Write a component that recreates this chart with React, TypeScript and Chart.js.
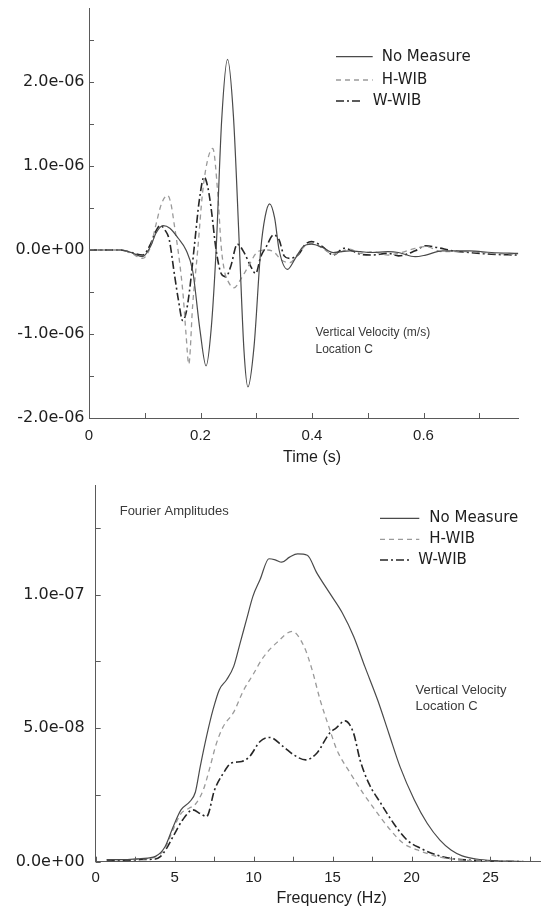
import React, { useEffect, useRef } from 'react';
import { Chart, registerables } from 'chart.js';

Chart.register(...registerables);

// ---------- shared ----------
const seriesNames = ['No Measure', 'H-WIB', 'W-WIB'];

// ---------- top chart: vertical velocity (m/s) vs time (s) ----------
const VEL_UNIT = 1e-6;
const timeNoMeasure = [0, 0.057, 0.076, 0.096, 0.111, 0.12, 0.133, 0.145, 0.16, 0.174, 0.186, 0.199, 0.21, 0.219, 0.228, 0.238, 0.2485, 0.259, 0.27, 0.278, 0.285, 0.296, 0.308, 0.316, 0.324, 0.333, 0.341, 0.356, 0.37, 0.384, 0.399, 0.419, 0.438, 0.468, 0.487, 0.507, 0.536, 0.555, 0.585, 0.604, 0.634, 0.683, 0.722, 0.77];
const velNoMeasure = [0, 0, -0.03, -0.08, 0.05, 0.2, 0.29, 0.26, 0.14, 0.0, -0.25, -0.95, -1.38, -0.95, 0.0, 1.55, 2.27, 1.6, 0.0, -1.2, -1.63, -1.15, 0.0, 0.4, 0.55, 0.38, 0.0, -0.23, -0.1, 0.04, 0.07, 0.03, -0.03, -0.01, -0.02, -0.03, -0.02, -0.03, -0.08, -0.06, -0.01, -0.01, -0.03, -0.04];
const timeHWIB = [0, 0.057, 0.076, 0.096, 0.111, 0.12, 0.13, 0.141, 0.147, 0.153, 0.162, 0.169, 0.174, 0.179, 0.186, 0.195, 0.2035, 0.212, 0.222, 0.231, 0.237, 0.243, 0.25, 0.26, 0.272, 0.287, 0.301, 0.316, 0.331, 0.345, 0.36, 0.375, 0.389, 0.399, 0.419, 0.438, 0.468, 0.487, 0.507, 0.536, 0.555, 0.585, 0.604, 0.634, 0.683, 0.722, 0.77];
const velHWIB = [0, 0, -0.04, -0.1, 0.05, 0.3, 0.55, 0.65, 0.55, 0.3, -0.12, -0.55, -1.0, -1.36, -0.65, 0.0, 0.67, 1.05, 1.21, 0.67, 0.05, -0.25, -0.38, -0.45, -0.35, -0.18, -0.03, 0.0, -0.02, -0.12, -0.15, -0.05, 0.06, 0.08, 0.02, -0.05, 0.01, -0.04, -0.02, -0.06, -0.04, 0.02, 0.04, -0.02, -0.02, -0.04, -0.05];
const timeWWIB = [0, 0.057, 0.076, 0.096, 0.111, 0.118, 0.128, 0.136, 0.144, 0.153, 0.1605, 0.168, 0.174, 0.18, 0.189, 0.198, 0.2065, 0.213, 0.219, 0.228, 0.237, 0.2455, 0.254, 0.266, 0.279, 0.2905, 0.299, 0.308, 0.318, 0.331, 0.341, 0.35, 0.36, 0.3775, 0.387, 0.399, 0.419, 0.438, 0.458, 0.487, 0.507, 0.536, 0.555, 0.585, 0.604, 0.624, 0.653, 0.683, 0.722, 0.77];
const velWWIB = [0, 0, -0.03, -0.06, 0.08, 0.2, 0.29, 0.24, 0.12, -0.28, -0.6, -0.84, -0.75, -0.5, 0.05, 0.6, 0.87, 0.75, 0.5, 0.0, -0.28, -0.32, -0.2, 0.07, -0.04, -0.2, -0.28, -0.08, 0.04, 0.18, 0.12, -0.07, -0.1, -0.04, 0.06, 0.1, 0.04, -0.06, 0.02, -0.05, -0.06, -0.04, -0.07, -0.01, 0.05, 0.03, -0.01, -0.03, -0.05, -0.06];

const timeTicks = [0, 0.1, 0.2, 0.3, 0.4, 0.5, 0.6, 0.7];
const timeTickLabels = ['0', '', '0.2', '', '0.4', '', '0.6', ''];
const velTicks = [-2, -1.5, -1, -0.5, 0, 0.5, 1, 1.5, 2, 2.5];
const velTickLabels = ['-2.0e-06', '', '-1.0e-06', '', '0.0e+00', '', '1.0e-06', '', '2.0e-06', ''];

// ---------- bottom chart: Fourier amplitudes vs frequency (Hz) ----------
const AMP_UNIT = 1e-8;
const freqNoMeasure = [0.7, 1.86, 2.87, 3.78, 4.39, 4.9, 5.4, 5.96, 6.31, 6.62, 7.02, 7.43, 7.83, 8.29, 8.74, 9.15, 9.55, 9.96, 10.41, 10.97, 11.37, 11.78, 12.28, 12.79, 13.4, 14.0, 14.81, 15.62, 16.33, 17.04, 17.85, 18.56, 19.27, 20.18, 20.99, 21.8, 22.5, 23.21, 24.12, 25.14, 26.15, 27.16];
const ampNoMeasure = [0.08, 0.08, 0.12, 0.2, 0.56, 1.3, 1.94, 2.25, 2.6, 3.56, 4.69, 5.69, 6.44, 6.81, 7.31, 8.19, 9.06, 9.94, 10.56, 11.34, 11.3, 11.21, 11.4, 11.52, 11.47, 10.81, 10.06, 9.31, 8.44, 7.31, 6.06, 4.81, 3.56, 2.31, 1.44, 0.81, 0.44, 0.22, 0.1, 0.04, 0.02, 0.0];
const freqHWIB = [0.7, 1.86, 2.87, 3.78, 4.39, 4.9, 5.4, 5.91, 6.31, 6.82, 7.22, 7.63, 8.08, 8.74, 9.35, 9.96, 10.61, 11.47, 12.44, 13.19, 13.7, 14.21, 14.76, 15.27, 16.13, 16.94, 17.85, 18.66, 19.47, 20.38, 21.59, 22.61, 23.62, 24.63, 26.15, 27.16];
const ampHWIB = [0.08, 0.08, 0.1, 0.18, 0.5, 1.2, 1.8, 2.0, 2.15, 2.7, 3.5, 4.4, 5.06, 5.6, 6.4, 7.0, 7.65, 8.2, 8.62, 8.06, 7.19, 6.06, 5.06, 4.19, 3.31, 2.56, 1.81, 1.19, 0.69, 0.44, 0.2, 0.1, 0.05, 0.02, 0.0, 0.0];
const freqWWIB = [0.7, 1.86, 2.87, 3.78, 4.09, 4.49, 4.9, 5.5, 6.16, 6.62, 7.02, 7.53, 8.08, 8.59, 9.25, 9.75, 10.41, 11.02, 11.88, 12.54, 13.3, 14.0, 14.81, 15.22, 15.78, 16.33, 16.74, 17.29, 18.05, 18.86, 19.72, 20.58, 21.59, 22.51, 23.62, 24.63, 25.64, 27.16];
const ampWWIB = [0.05, 0.05, 0.08, 0.1, 0.19, 0.5, 0.94, 1.56, 1.94, 1.8, 1.69, 2.69, 3.31, 3.69, 3.75, 3.94, 4.5, 4.65, 4.31, 4.0, 3.81, 4.06, 4.81, 5.0, 5.27, 4.81, 3.81, 2.94, 2.19, 1.44, 0.81, 0.5, 0.25, 0.12, 0.06, 0.03, 0.01, 0.0];

const freqTicks = [0, 2.5, 5, 7.5, 10, 12.5, 15, 17.5, 20, 22.5, 25, 27.5];
const freqTickLabels = ['0', '', '5', '', '10', '', '15', '', '20', '', '25', ''];
const ampTicks = [0, 2.5, 5, 7.5, 10, 12.5];
const ampTickLabels = ['0.0e+00', '', '5.0e-08', '', '1.0e-07', ''];

// ---------- styling ----------
const lineStyles = [
  { color: '#4a4a4a', width: 1.2, dash: [] as number[] },
  { color: '#9a9a9a', width: 1.3, dash: [5, 4] },
  { color: '#262626', width: 1.6, dash: [8, 3, 2, 3] },
];
const TEXT = '#1e1e1e';
const AXIS = '#5a5a5a';

function points(xs: number[], ys: number[], unit: number) {
  return xs.map((x, i) => ({ x, y: ys[i] * unit }));
}

function makeDatasets(series: { x: number[]; y: number[] }[], unit: number) {
  return series.map((s, i) => ({
    label: seriesNames[i],
    data: points(s.x, s.y, unit),
    borderColor: lineStyles[i].color,
    borderWidth: lineStyles[i].width,
    borderDash: lineStyles[i].dash,
    pointRadius: 0,
    fill: false,
    cubicInterpolationMode: 'monotone' as const,
  }));
}

type TextItem = { text: string; x: number; y: number; font: string; color: string; align: CanvasTextAlign };
type LegendRow = { x0: number; x1: number; tx: number; y: number };

function makeDecor(legendRows: LegendRow[], texts: TextItem[]) {
  return {
    id: 'decor',
    afterDraw(chart: any) {
      const ctx: CanvasRenderingContext2D = chart.ctx;
      const { left, bottom } = chart.chartArea;
      const xs = chart.scales.x;
      const ys = chart.scales.y;
      ctx.save();
      // inward tick marks
      ctx.strokeStyle = AXIS;
      ctx.lineWidth = 1;
      ctx.setLineDash([]);
      ctx.beginPath();
      xs.ticks.forEach((t: any) => {
        const px = Math.round(xs.getPixelForValue(t.value)) + 0.5;
        ctx.moveTo(px, bottom);
        ctx.lineTo(px, bottom - 5);
      });
      ys.ticks.forEach((t: any) => {
        const py = Math.round(ys.getPixelForValue(t.value)) + 0.5;
        ctx.moveTo(left, py);
        ctx.lineTo(left + 5, py);
      });
      ctx.stroke();
      // legend
      chart.data.datasets.forEach((ds: any, i: number) => {
        const r = legendRows[i];
        ctx.strokeStyle = ds.borderColor;
        ctx.lineWidth = ds.borderWidth;
        ctx.setLineDash(ds.borderDash || []);
        ctx.beginPath();
        ctx.moveTo(r.x0, r.y);
        ctx.lineTo(r.x1, r.y);
        ctx.stroke();
        ctx.setLineDash([]);
        ctx.fillStyle = TEXT;
        ctx.font = '15px "DejaVu Sans"';
        ctx.textAlign = 'left';
        ctx.textBaseline = 'middle';
        ctx.fillText(ds.label, r.tx, r.y);
      });
      // annotations and axis titles
      texts.forEach((t) => {
        ctx.font = t.font;
        ctx.fillStyle = t.color;
        ctx.textAlign = t.align;
        ctx.textBaseline = 'middle';
        ctx.fillText(t.text, t.x, t.y);
      });
      ctx.restore();
    },
  };
}

function scaleOpts(opts: {
  min: number; max: number; ticks: number[]; labels: string[]; unit: number;
  font: any; padding: number; size: number; horizontal: boolean;
}) {
  return {
    type: 'linear' as const,
    min: opts.min,
    max: opts.max,
    grid: { display: false, drawTicks: false },
    border: { display: true, color: AXIS, width: 1 },
    ticks: {
      autoSkip: false,
      maxRotation: 0,
      minRotation: 0,
      padding: opts.padding,
      color: TEXT,
      font: opts.font,
      callback: (_v: any, i: number) => opts.labels[i],
    },
    afterBuildTicks: (axis: any) => {
      axis.ticks = opts.ticks.map((v) => ({ value: v * opts.unit }));
    },
    afterFit: (axis: any) => {
      if (opts.horizontal) axis.height = opts.size;
      else axis.width = opts.size;
      axis.paddingTop = 0;
      axis.paddingBottom = 0;
      axis.paddingLeft = 0;
      axis.paddingRight = 0;
    },
  };
}

const tickFontY = { family: 'DejaVu Sans', size: 16 };
const tickFontX = { family: 'Liberation Sans', size: 15 };

function TopChart() {
  const ref = useRef<HTMLCanvasElement>(null);
  useEffect(() => {
    const chart = new Chart(ref.current as HTMLCanvasElement, {
      type: 'line',
      data: {
        datasets: makeDatasets(
          [
            { x: timeNoMeasure, y: velNoMeasure },
            { x: timeHWIB, y: velHWIB },
            { x: timeWWIB, y: velWWIB },
          ],
          VEL_UNIT,
        ) as any,
      },
      options: {
        animation: false,
        responsive: false,
        layout: { padding: { left: 0, right: 22.7, top: 8.5, bottom: 0 } },
        plugins: { legend: { display: false }, tooltip: { enabled: false } },
        scales: {
          x: scaleOpts({ min: 0, max: 0.77, ticks: timeTicks, labels: timeTickLabels, unit: 1, font: tickFontX, padding: 9, size: 52, horizontal: true }) as any,
          y: scaleOpts({ min: -2e-6, max: 2.875e-6, ticks: velTicks, labels: velTickLabels, unit: VEL_UNIT, font: tickFontY, padding: 4.5, size: 89, horizontal: false }) as any,
        },
      },
      plugins: [
        makeDecor(
          [
            { x0: 336, x1: 372.7, tx: 381.7, y: 56.7 },
            { x0: 336, x1: 372.7, tx: 381.7, y: 80 },
            { x0: 336, x1: 360, tx: 372.7, y: 101 },
          ],
          [
            { text: 'Vertical Velocity (m/s)', x: 315.5, y: 333, font: '12px "Liberation Sans"', color: '#3a3a3a', align: 'left' },
            { text: 'Location C', x: 315.5, y: 350, font: '12px "Liberation Sans"', color: '#3a3a3a', align: 'left' },
            { text: 'Time (s)', x: 312, y: 458, font: '16px "Liberation Sans"', color: TEXT, align: 'center' },
          ],
        ) as any,
      ],
    });
    return () => chart.destroy();
  }, []);
  return <canvas ref={ref} width={541} height={470} style={{ position: 'absolute', left: 0, top: 0, width: 541, height: 470 }} />;
}

function BottomChart() {
  const ref = useRef<HTMLCanvasElement>(null);
  useEffect(() => {
    const chart = new Chart(ref.current as HTMLCanvasElement, {
      type: 'line',
      data: {
        datasets: makeDatasets(
          [
            { x: freqNoMeasure, y: ampNoMeasure },
            { x: freqHWIB, y: ampHWIB },
            { x: freqWWIB, y: ampWWIB },
          ],
          AMP_UNIT,
        ) as any,
      },
      options: {
        animation: false,
        responsive: false,
        layout: { padding: { left: 0, right: 0, top: 15, bottom: 0 } },
        plugins: { legend: { display: false }, tooltip: { enabled: false } },
        scales: {
          x: scaleOpts({ min: 0, max: 28.2, ticks: freqTicks, labels: freqTickLabels, unit: 1, font: tickFontX, padding: 7, size: 50.3, horizontal: true }) as any,
          y: scaleOpts({ min: 0, max: 1.41e-7, ticks: ampTicks, labels: ampTickLabels, unit: AMP_UNIT, font: tickFontY, padding: 11, size: 95.7, horizontal: false }) as any,
        },
      },
      plugins: [
        makeDecor(
          [
            { x0: 380, x1: 419.3, tx: 429.3, y: 48.3 },
            { x0: 380, x1: 419.3, tx: 429.3, y: 69.3 },
            { x0: 380, x1: 410, tx: 418.3, y: 90 },
          ],
          [
            { text: 'Fourier Amplitudes', x: 119.7, y: 41.7, font: '13px "Liberation Sans"', color: '#3a3a3a', align: 'left' },
            { text: 'Vertical Velocity', x: 415.5, y: 220.7, font: '13px "Liberation Sans"', color: '#3a3a3a', align: 'left' },
            { text: 'Location C', x: 415.5, y: 236, font: '13px "Liberation Sans"', color: '#3a3a3a', align: 'left' },
            { text: 'Frequency (Hz)', x: 331.6, y: 429, font: '16px "Liberation Sans"', color: TEXT, align: 'center' },
          ],
        ) as any,
      ],
    });
    return () => chart.destroy();
  }, []);
  return <canvas ref={ref} width={541} height={442} style={{ position: 'absolute', left: 0, top: 470, width: 541, height: 442 }} />;
}

export default function App() {
  return (
    <div style={{ position: 'absolute', left: 0, top: 0, width: 541, height: 912, background: '#ffffff' }}>
      <TopChart />
      <BottomChart />
    </div>
  );
}
